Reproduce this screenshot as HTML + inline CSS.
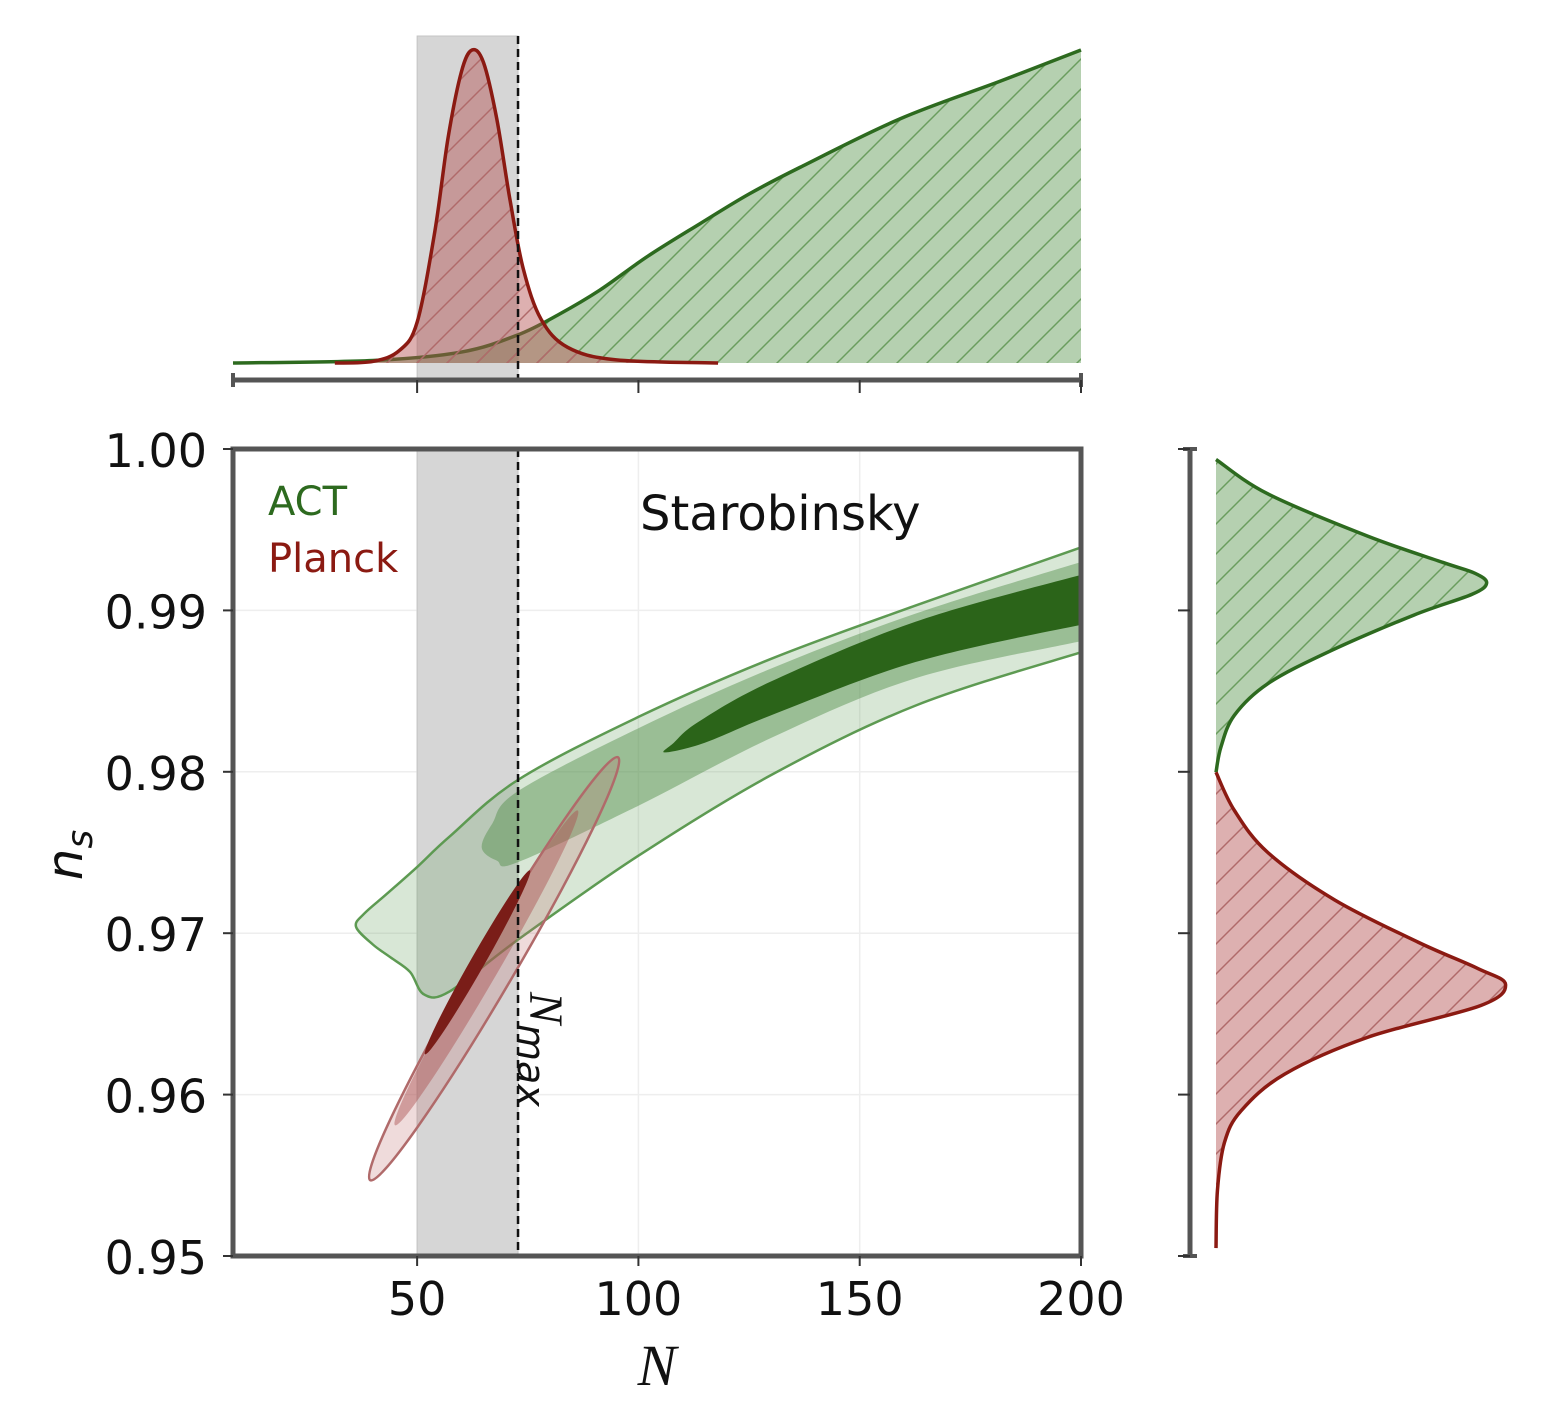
<!DOCTYPE html>
<html><head><meta charset="utf-8"><style>
html,body{margin:0;padding:0;background:#fff;}
svg{display:block;font-family:"DejaVu Sans","Liberation Sans",sans-serif;}
</style></head><body>
<svg id="chart" width="1545" height="1417" viewBox="0 0 1545 1417">
<defs>
<pattern id="hatchG" patternUnits="userSpaceOnUse" width="30" height="30">
<path d="M-5,35 L35,-5 M-20,20 L20,-20 M10,50 L50,10" stroke="#6a9d5e" stroke-width="1.5"/></pattern>
<pattern id="hatchR" patternUnits="userSpaceOnUse" width="30" height="30">
<path d="M-5,35 L35,-5 M-20,20 L20,-20 M10,50 L50,10" stroke="#b06a6a" stroke-width="1.5"/></pattern>
<clipPath id="mainClip"><rect x="233" y="449" width="848" height="807"/></clipPath>
</defs>
<g id="topPanel"></g>
<g id="mainPanel"></g>
<g id="rightPanel"></g>
</svg>
<script>
// ---- data ----
const xTicks = [50, 100, 150, 200];
const yTicks = [0.95, 0.96, 0.97, 0.98, 0.99, 1.00];
const yTickLabels = ["0.95", "0.96", "0.97", "0.98", "0.99", "1.00"];
const nMax = 72.8;
const bandMin = 50;
const greenTopN = [8.4, 40, 60, 72.8, 82, 91.3, 102, 113.9, 125, 136.5, 159.1, 181.7, 200];
const greenTopP = [0.0, 0.008, 0.035, 0.09, 0.155, 0.233, 0.34, 0.445, 0.54, 0.625, 0.78, 0.90, 1.0];
const redTopN = [31.4, 40, 46, 50, 54, 57, 60, 62.4, 65, 68, 71, 74, 78, 84, 95, 118];
const redTopP = [0.0, 0.005, 0.04, 0.13, 0.42, 0.72, 0.93, 1.0, 0.96, 0.78, 0.52, 0.30, 0.14, 0.05, 0.01, 0.0];
const greenRightNs = [0.99935, 0.99722, 0.99461, 0.99297, 0.99230, 0.99170, 0.99100, 0.98971, 0.98742, 0.98546, 0.9835, 0.98154, 0.97997];
const greenRightP = [0.0, 0.178, 0.52, 0.78, 0.89, 0.93, 0.88, 0.68, 0.385, 0.178, 0.063, 0.017, 0.0];
const redRightNs = [0.97997, 0.97761, 0.975, 0.97206, 0.96944, 0.96781, 0.96683, 0.96552, 0.96356, 0.96127, 0.95899, 0.95703, 0.95408, 0.95049];
const redRightP = [0.0, 0.063, 0.178, 0.408, 0.695, 0.90, 0.995, 0.91, 0.523, 0.236, 0.086, 0.029, 0.005, 0.0];
const actOuterN = [36.2, 40, 44, 48.4, 51.6, 57.4, 72.8, 100, 130, 162.6, 200, 215, 215, 200, 162.6, 130, 100, 72.8, 57.4, 50, 43, 38];
const actOuterNs = [0.9704, 0.9693, 0.9685, 0.9676, 0.9662, 0.9664, 0.9696, 0.9748, 0.9798, 0.9841, 0.9874, 0.9885, 0.9955, 0.9939, 0.9903, 0.9870, 0.9834, 0.9795, 0.9760, 0.9741, 0.9724, 0.9712];
const actMidN = [64.6, 68, 72.8, 100, 130, 162.6, 200, 215, 215, 200, 162.6, 130, 100, 72.8, 67];
const actMidNs = [0.9753, 0.9745, 0.9744, 0.9779, 0.9821, 0.9858, 0.9881, 0.9890, 0.9942, 0.9930, 0.9898, 0.9864, 0.9827, 0.9788, 0.9768];
const actInnerN = [106, 115, 130, 162.6, 200, 215, 215, 200, 162.6, 130, 113.6, 108];
const actInnerNs = [0.9812, 0.9818, 0.9835, 0.9868, 0.9891, 0.9897, 0.9932, 0.9922, 0.9893, 0.9856, 0.9831, 0.9818];
const planckEndA_N = [39.4, 45.0, 51.8];
const planckEndA_Ns = [0.9547, 0.9581, 0.9625];
const planckEndB_N = [95.4, 86.3, 75.5];
const planckEndB_Ns = [0.9809, 0.9776, 0.9739];

const SVGNS = "http://www.w3.org/2000/svg";
const X0 = 233, X1 = 1081, XMIN = 8.4, XMAX = 200;
const Y0 = 1256, Y1 = 449, YMIN = 0.95, YMAX = 1.00;
const sx = v => X0 + (v - XMIN) / (XMAX - XMIN) * (X1 - X0);
const sy = v => Y0 - (v - YMIN) / (YMAX - YMIN) * (Y0 - Y1);
const TOPBASE = 363, TOPH = 313;
const topY = p => TOPBASE - p * TOPH;
const RBASE = 1216, RW = 291;
const rX = p => RBASE + p * RW;

function mk(tag, attrs, parent) {
  const el = document.createElementNS(SVGNS, tag);
  for (const k in attrs) el.setAttribute(k, attrs[k]);
  parent.appendChild(el);
  return el;
}
function smoothClosed(pts) {
  const n = pts.length; let d = `M${pts[0][0]},${pts[0][1]}`;
  for (let i = 0; i < n; i++) {
    const p0 = pts[(i - 1 + n) % n], p1 = pts[i], p2 = pts[(i + 1) % n], p3 = pts[(i + 2) % n];
    const c1 = [p1[0] + (p2[0] - p0[0]) / 6, p1[1] + (p2[1] - p0[1]) / 6];
    const c2 = [p2[0] - (p3[0] - p1[0]) / 6, p2[1] - (p3[1] - p1[1]) / 6];
    d += ` C${c1[0]},${c1[1]} ${c2[0]},${c2[1]} ${p2[0]},${p2[1]}`;
  }
  return d + "Z";
}
function smoothOpen(pts) {
  const n = pts.length; let d = `M${pts[0][0]},${pts[0][1]}`;
  for (let i = 0; i < n - 1; i++) {
    const p0 = pts[Math.max(i - 1, 0)], p1 = pts[i], p2 = pts[i + 1], p3 = pts[Math.min(i + 2, n - 1)];
    const c1 = [p1[0] + (p2[0] - p0[0]) / 6, p1[1] + (p2[1] - p0[1]) / 6];
    const c2 = [p2[0] - (p3[0] - p1[0]) / 6, p2[1] - (p3[1] - p1[1]) / 6];
    d += ` C${c1[0]},${c1[1]} ${c2[0]},${c2[1]} ${p2[0]},${p2[1]}`;
  }
  return d;
}

// ---- top marginal ----
const topG = document.getElementById('topPanel');
let e = mk('rect', {x: sx(bandMin), y: 36, width: sx(nMax) - sx(bandMin), height: TOPBASE - 36 + 17, fill: '#d6d6d6', stroke: '#c4c4c4'}, topG);


function topCurve(Ns, Ps, fill, hatch, stroke, name) {
  const pts = Ns.map((n, i) => [sx(n), topY(Ps[i])]);
  const line = smoothOpen(pts);
  const area = line + ` L${sx(Ns[Ns.length - 1])},${TOPBASE} L${sx(Ns[0])},${TOPBASE}Z`;
  const a = mk('path', {d: area, fill: fill}, topG);
  
  
  mk('path', {d: area, fill: hatch}, topG);
  const l = mk('path', {d: line, fill: 'none', stroke: stroke, 'stroke-width': 3.5}, topG);
  
  
}
topCurve(greenTopN, greenTopP, 'rgba(90,150,80,0.45)', 'url(#hatchG)', '#2d6a1f', 'act-n-posterior');
topCurve(redTopN, redTopP, 'rgba(180,80,80,0.45)', 'url(#hatchR)', '#8b1a12', 'planck-n-posterior');
e = mk('line', {x1: sx(nMax), y1: 36, x2: sx(nMax), y2: 380, stroke: '#111', 'stroke-width': 2.5, 'stroke-dasharray': '8,5'}, topG);


e = mk('line', {x1: X0, y1: 380, x2: X1 + 2, y2: 380, stroke: '#555', 'stroke-width': 5}, topG);


mk('line', {x1: X0, y1: 373, x2: X0, y2: 387, stroke: '#555', 'stroke-width': 4}, topG);
mk('line', {x1: X1, y1: 373, x2: X1, y2: 387, stroke: '#555', 'stroke-width': 4}, topG);
xTicks.forEach(t => { mk('line', {x1: sx(t), y1: 380, x2: sx(t), y2: 393, stroke: '#333', 'stroke-width': 2}, topG); });

// ---- main panel ----
const mainG = document.getElementById('mainPanel');
const clipG = mk('g', {'clip-path': 'url(#mainClip)'}, mainG);
xTicks.forEach(t => mk('line', {x1: sx(t), y1: Y1, x2: sx(t), y2: Y0, stroke: '#eee', 'stroke-width': 1.5}, clipG));
yTicks.forEach(t => mk('line', {x1: X0, y1: sy(t), x2: X1, y2: sy(t), stroke: '#eee', 'stroke-width': 1.5}, clipG));
e = mk('rect', {x: sx(bandMin), y: Y1, width: sx(nMax) - sx(bandMin), height: Y0 - Y1, fill: '#d6d6d6', stroke: '#c4c4c4'}, clipG);


function contour(Ns, Vs, fill, stroke, name) {
  const pts = Ns.map((n, i) => [sx(n), sy(Vs[i])]);
  const p = mk('path', {d: smoothClosed(pts), fill: fill, stroke: stroke, 'stroke-width': stroke === 'none' ? 0 : 2.5}, clipG);
  
  
}
contour(actOuterN, actOuterNs, 'rgba(100,160,90,0.25)', '#5d9a52', 'act-contour-95');
contour(actMidN, actMidNs, 'rgba(80,140,70,0.45)', 'none', 'act-contour-68');
contour(actInnerN, actInnerNs, '#2b6419', 'none', 'act-contour-core');
const redStyles = [['rgba(190,110,110,0.25)', '#b06a6a', 20], ['rgba(170,80,80,0.45)', 'none', 12], ['#7a1d18', 'none', 7]];
const redNames = ['planck-contour-95', 'planck-contour-68', 'planck-contour-core'];
planckEndA_N.forEach((n, i) => {
  const ax = sx(n), ay = sy(planckEndA_Ns[i]), bx = sx(planckEndB_N[i]), by = sy(planckEndB_Ns[i]);
  const cx = (ax + bx) / 2, cy = (ay + by) / 2;
  const rx = Math.hypot(bx - ax, by - ay) / 2;
  const ang = Math.atan2(by - ay, bx - ax) * 180 / Math.PI;
  const st = redStyles[i];
  const el = mk('ellipse', {cx: cx, cy: cy, rx: rx, ry: st[2], fill: st[0], stroke: st[1], 'stroke-width': 2.5, transform: `rotate(${ang} ${cx} ${cy})`}, clipG);
  
  
});
e = mk('line', {x1: sx(nMax), y1: Y1, x2: sx(nMax), y2: Y0, stroke: '#111', 'stroke-width': 2.5, 'stroke-dasharray': '8,5'}, clipG);


e = mk('rect', {x: X0, y: Y1, width: X1 - X0, height: Y0 - Y1, fill: 'none', stroke: '#555', 'stroke-width': 5}, mainG);


xTicks.forEach(t => {
  mk('line', {x1: sx(t), y1: Y0, x2: sx(t), y2: Y0 + 10, stroke: '#333', 'stroke-width': 2}, mainG);
  const tx = mk('text', {x: sx(t), y: 1315, 'font-size': 46, 'text-anchor': 'middle', fill: '#111'}, mainG);
  tx.textContent = t;
  
  
});
yTicks.forEach((t, i) => {
  mk('line', {x1: X0 - 10, y1: sy(t), x2: X0, y2: sy(t), stroke: '#333', 'stroke-width': 2}, mainG);
  const tx = mk('text', {x: 207, y: sy(t) + 18, 'font-size': 46, 'text-anchor': 'end', fill: '#111'}, mainG);
  tx.textContent = yTickLabels[i];
  
  
});
e = mk('text', {x: 657, y: 1385, 'font-size': 58, 'font-style': 'italic', 'font-family': 'Liberation Serif, serif', 'text-anchor': 'middle', fill: '#111'}, mainG);
e.textContent = 'N';


e = mk('text', {x: 82, y: 855, 'font-size': 50, 'font-style': 'italic', 'text-anchor': 'middle', fill: '#111', transform: 'rotate(-90 82 855)'}, mainG);
e.textContent = 'n';
const sub1 = mk('tspan', {'font-size': 36, dy: 10}, e);
sub1.textContent = 's';


e = mk('text', {x: 530, y: 992, 'font-size': 38, 'font-style': 'italic', fill: '#111', transform: 'rotate(90 530 992)'}, mainG);
const tN = mk('tspan', {'font-family': 'Liberation Serif, serif', 'font-size': 48}, e);
tN.textContent = 'N';
const tM = mk('tspan', {dy: 12}, e);
tM.textContent = 'max';


e = mk('text', {x: 640, y: 530, 'font-size': 48, fill: '#111'}, mainG);
e.textContent = 'Starobinsky';


e = mk('text', {x: 268, y: 515, 'font-size': 40, fill: '#2d6a1f'}, mainG);
e.textContent = 'ACT';


e = mk('text', {x: 268, y: 572, 'font-size': 40, fill: '#8b1a12'}, mainG);
e.textContent = 'Planck';



// ---- right marginal ----
const rightG = document.getElementById('rightPanel');
e = mk('line', {x1: 1190, y1: Y1, x2: 1190, y2: Y0, stroke: '#555', 'stroke-width': 5}, rightG);


mk('line', {x1: 1183, y1: Y1, x2: 1197, y2: Y1, stroke: '#555', 'stroke-width': 4}, rightG);
mk('line', {x1: 1183, y1: Y0, x2: 1197, y2: Y0, stroke: '#555', 'stroke-width': 4}, rightG);
yTicks.forEach(t => mk('line', {x1: 1178, y1: sy(t), x2: 1190, y2: sy(t), stroke: '#333', 'stroke-width': 2}, rightG));
function rightCurve(Vs, Ps, fill, hatch, stroke, name) {
  const pts = Vs.map((v, i) => [rX(Ps[i]), sy(v)]);
  const line = smoothOpen(pts);
  const area = line + ` L${RBASE},${sy(Vs[Vs.length - 1])} L${RBASE},${sy(Vs[0])}Z`;
  const a = mk('path', {d: area, fill: fill}, rightG);
  
  
  mk('path', {d: area, fill: hatch}, rightG);
  const l = mk('path', {d: line, fill: 'none', stroke: stroke, 'stroke-width': 3.5}, rightG);
  
  
}
rightCurve(greenRightNs, greenRightP, 'rgba(90,150,80,0.45)', 'url(#hatchG)', '#2d6a1f', 'act-ns-posterior');
rightCurve(redRightNs, redRightP, 'rgba(180,80,80,0.45)', 'url(#hatchR)', '#8b1a12', 'planck-ns-posterior');
</script>
</body></html>
